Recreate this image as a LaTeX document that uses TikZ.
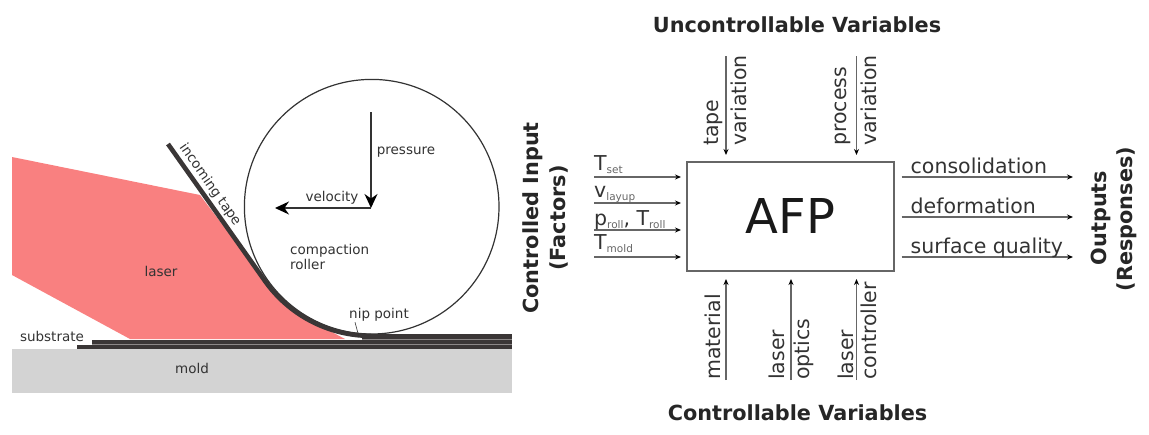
\documentclass[tikz,border=0pt]{standalone}
\usepackage{fontspec}
\setmainfont{DejaVu Sans}
\usetikzlibrary{arrows.meta, positioning, calc}

\definecolor{laserred}{HTML}{F98080}
\definecolor{moldgray}{HTML}{D3D3D3}
\definecolor{tapedark}{HTML}{3A3636}
\definecolor{tapegap}{HTML}{8C8888}
\definecolor{textdark}{HTML}{333333}
\definecolor{flowgray}{HTML}{666666}

\newcommand{\lowtxt}[1]{\raisebox{-3pt}{\fontsize{10.5}{12}\selectfont\color{flowgray}#1}}

\tikzset{
  smalltxt/.style={font=\fontsize{13.5}{15}\selectfont, text=textdark, inner sep=0pt},
  flowtxt/.style={font=\fontsize{20.5}{24}\selectfont, text=textdark, inner sep=0pt},
  vertxt/.style={flowtxt, rotate=90, anchor=west},
  headtxt/.style={font=\bfseries\fontsize{20.8}{24}\selectfont, text=black!85, inner sep=0pt},
  flowline/.style={flowgray, line width=1.2pt, -{Stealth[length=6pt, width=5pt, black]}},
  bigarrow/.style={textdark, line width=1.3pt, -{Stealth[length=14pt, width=13pt, black]}}
}

\begin{document}
\begin{tikzpicture}[x=1pt, y=-1pt]
  \useasboundingbox (0,0) rectangle (1149,434);

  \fill[moldgray] (12,349) rectangle (512,393);
  \fill[laserred] (12,157) -- (200,195) -- (265,281) -- (300,315) -- (345,339) -- (130,339) -- (12,275) -- cycle;

  \draw[textdark, line width=1.2pt, fill=white] (371.7,206.7) circle[radius=127.3pt];
  \draw[tapedark, line width=4.6pt] (168,144) -- (265,281) arc[start angle=215.3, end angle=270, radius=130pt];

  \fill[tapegap] (362,339) rectangle (512,345);
  \fill[tapegap] (92,344) rectangle (512,345);
  \fill[tapedark] (362,333.5) rectangle (512,339);
  \fill[tapedark] (92,339.5) rectangle (512,344.2);
  \fill[tapedark] (77,345) rectangle (512,349);

  \coordinate (pushc) at (371,208);
  \coordinate (pushtop) at (371,112);
  \coordinate (pushleft) at (275,208);
  \coordinate (niptip) at (359,337);
  \draw[bigarrow] (pushtop) -- (pushc);
  \draw[bigarrow] (pushc) -- (pushleft);

  \node[smalltxt] (pressure) at (406,152) {pressure};
  \node[smalltxt] (velocity) at (332,198) {velocity};
  \node[smalltxt, align=left, anchor=west] (roller) at (290,257) {compaction\\roller};
  \node[smalltxt] (laser) at (161,271) {laser};
  \node[smalltxt] (nip) at (379,314.5) {nip point};
  \node[smalltxt] (substrate) at (52,336) {substrate};
  \node[smalltxt] (mold) at (192,368) {mold};
  \node[smalltxt, rotate=-55] (tape) at (210,185) {incoming tape};
  \draw[textdark, line width=0.6pt] (nip.south west) ++(6,1) -- (niptip);

  \node[draw=flowgray, line width=1.3pt, minimum width=207pt, minimum height=109pt, inner sep=0pt,
        font=\fontsize{48}{52}\selectfont, text=black!90] (afp) at (790.5,216.5) {AFP};

  \foreach \y/\n in {177/a, 203/b, 230/c, 257/d}{
    \coordinate (in\n) at (594,\y);
    \coordinate (to\n) at (681,\y);
    \draw[flowline] (in\n) -- (to\n);
  }
  \foreach \y/\n in {177/a, 217/b, 257/c}{
    \coordinate (out\n) at (901.5,\y);
    \coordinate (end\n) at (1073,\y);
    \draw[flowline] (out\n) -- (end\n);
  }
  \foreach \x/\n in {726/a, 856.5/b}{
    \coordinate (top\n) at (\x,56);
    \coordinate (dn\n) at (\x,155);
    \draw[flowline] (top\n) -- (dn\n);
  }
  \foreach \x/\n in {726/a, 791/b, 856.5/c}{
    \coordinate (low\n) at (\x,380);
    \coordinate (up\n) at (\x,279);
    \draw[flowline] (low\n) -- (up\n);
  }

  \node[flowtxt, anchor=base west] (tset) at (594,170) {T\lowtxt{set}};
  \node[flowtxt, anchor=base west] (vlay) at (594,197) {v\lowtxt{layup}};
  \node[flowtxt, anchor=base west] (proll) at (594,225) {p\lowtxt{roll}, T\lowtxt{roll}};
  \node[flowtxt, anchor=base west] (tmold) at (594,249) {T\lowtxt{mold}};

  \node[flowtxt, anchor=base west] (cons) at (910.5,173) {consolidation};
  \node[flowtxt, anchor=base west] (defo) at (910.5,213) {deformation};
  \node[flowtxt, anchor=base west] (surf) at (910.5,253) {surface quality};

  \node[vertxt] (tapev) at (713,146) {tape};
  \node[vertxt] (tapevar) at (739,146) {variation};
  \node[vertxt] (proc) at (843,146) {process};
  \node[vertxt] (procvar) at (869,146) {variation};
  \node[vertxt] (material) at (713,380) {material};
  \node[vertxt] (laserb) at (777,380) {laser};
  \node[vertxt] (optics) at (804,380) {optics};
  \node[vertxt] (laserc) at (846,380) {laser};
  \node[vertxt] (controller) at (869,380) {controller};

  \node[headtxt] (unctrl) at (797,25) {Uncontrollable Variables};
  \node[headtxt] (ctrl) at (797.5,413) {Controllable Variables};
  \node[headtxt, rotate=90] (ctrlin) at (533,218) {Controlled Input};
  \node[headtxt, rotate=90] (factors) at (559,218) {(Factors)};
  \node[headtxt, rotate=90] (outs) at (1101,218) {Outputs};
  \node[headtxt, rotate=90] (resp) at (1127,219) {(Responses)};
\end{tikzpicture}
\end{document}
